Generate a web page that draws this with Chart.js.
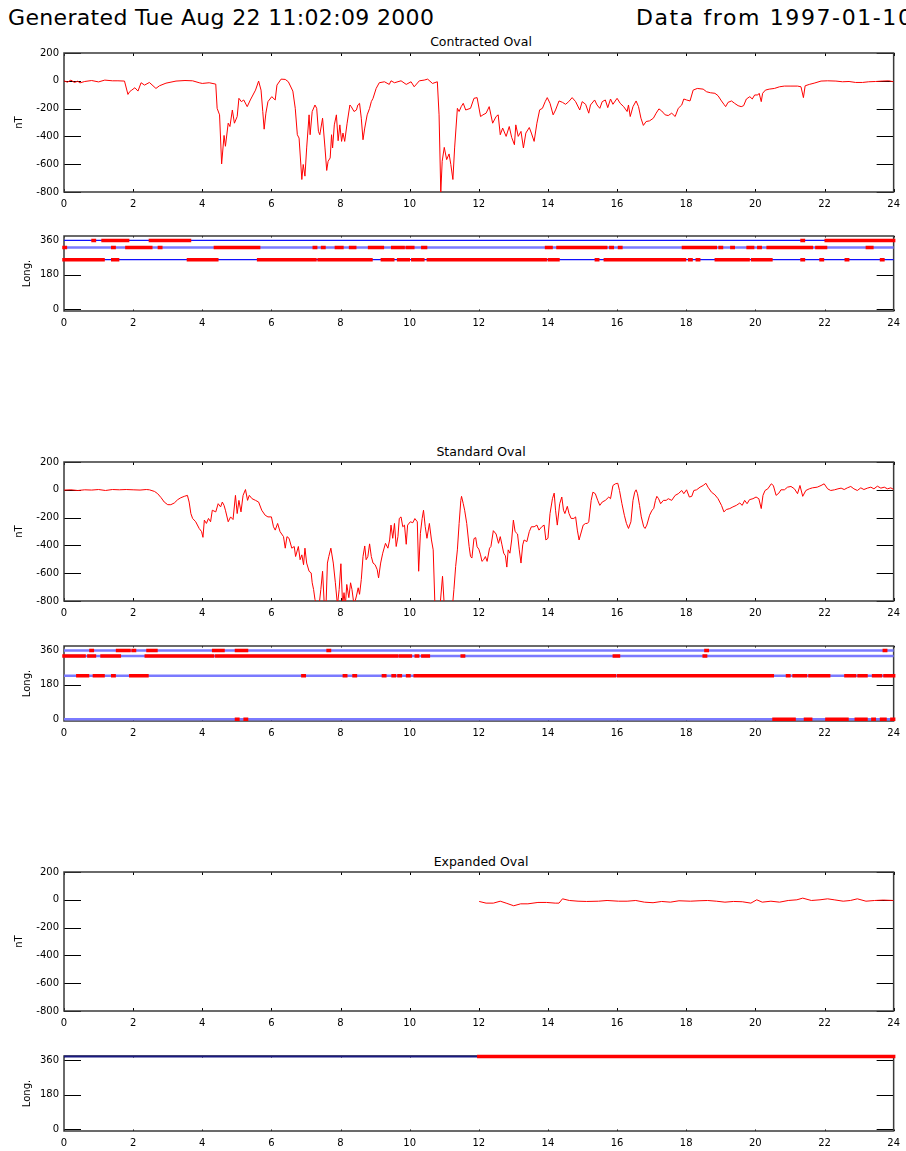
<!DOCTYPE html>
<html><head><meta charset="utf-8">
<script src="https://cdn.jsdelivr.net/npm/chart.js@4.4.0/dist/chart.umd.min.js"></script>
<style>
body{margin:0;background:#fff;}
#page{position:relative;width:906px;height:1151px;overflow:hidden;background:#fff;font-family:'DejaVu Sans',sans-serif;color:#000;}
.hdr{position:absolute;font-size:22px;line-height:22px;white-space:nowrap;}
.ptitle{position:absolute;left:64px;width:834px;text-align:center;font-size:12.5px;line-height:14px;white-space:nowrap;}
canvas{position:absolute;left:0;}
</style></head>
<body><div id="page">
<div class="hdr" style="left:8px;top:7px;letter-spacing:0.33px;">Generated Tue Aug 22 11:02:09 2000</div>
<div class="hdr" style="left:636px;top:7px;letter-spacing:1.6px;">Data from 1997-01-10</div>
<div class="ptitle" style="top:35px;">Contracted Oval</div>
<div class="ptitle" style="top:445px;">Standard Oval</div>
<div class="ptitle" style="top:855px;">Expanded Oval</div>
<canvas id="p1"></canvas><canvas id="p2"></canvas><canvas id="p3"></canvas>
<canvas id="p4"></canvas><canvas id="p5"></canvas><canvas id="p6"></canvas>
</div>
<script>
// ---------------- DATA ----------------
const hourTicks = [0,2,4,6,8,10,12,14,16,18,20,22,24];
const ntTicks = [-800,-600,-400,-200,0,200];
const longTicks = [0,180,360];

// Contracted Oval – nT
const contractedHours = [0,0.1,0.2,0.3,0.4,0.46,0.6,0.8,1.0,1.18,1.4,1.56,1.75,1.85,1.9,1.96,2.05,2.14,2.23,2.33,2.47,2.66,2.76,2.95,3.24,3.5,3.72,3.91,4.0,4.2,4.39,4.43,4.5,4.56,4.63,4.67,4.75,4.8,4.87,4.93,5.01,5.06,5.13,5.2,5.3,5.39,5.54,5.63,5.7,5.75,5.79,5.84,5.9,6.01,6.11,6.16,6.28,6.4,6.49,6.62,6.69,6.75,6.8,6.88,6.92,6.97,7.02,7.09,7.12,7.18,7.26,7.31,7.36,7.4,7.48,7.55,7.6,7.64,7.7,7.74,7.77,7.82,7.88,7.93,7.98,8.03,8.07,8.12,8.19,8.27,8.31,8.39,8.46,8.5,8.55,8.6,8.65,8.7,8.77,8.84,8.89,8.94,9.03,9.12,9.27,9.41,9.46,9.56,9.75,9.9,10.04,10.13,10.28,10.42,10.52,10.66,10.8,10.85,10.9,10.94,11.0,11.07,11.14,11.19,11.25,11.3,11.38,11.43,11.49,11.55,11.62,11.76,11.86,11.95,12.05,12.12,12.21,12.3,12.4,12.5,12.56,12.62,12.69,12.79,12.88,12.95,13.03,13.07,13.14,13.22,13.29,13.36,13.46,13.52,13.6,13.68,13.76,13.84,13.92,13.98,14.06,14.15,14.22,14.32,14.42,14.51,14.6,14.7,14.8,14.92,14.99,15.09,15.18,15.23,15.35,15.42,15.5,15.57,15.66,15.73,15.81,15.88,16.0,16.09,16.19,16.29,16.33,16.38,16.46,16.55,16.62,16.69,16.76,16.84,16.94,17.05,17.13,17.21,17.29,17.39,17.48,17.58,17.68,17.77,17.87,17.93,18.01,18.11,18.2,18.32,18.49,18.59,18.7,18.83,18.92,19.02,19.09,19.14,19.21,19.31,19.4,19.5,19.59,19.66,19.74,19.84,19.91,19.98,20.07,20.11,20.17,20.21,20.29,20.4,20.55,20.7,20.84,21.03,21.22,21.32,21.39,21.44,21.56,21.7,21.9,22.09,22.33,22.52,22.71,22.9,23.1,23.28,23.48,23.67,23.86,24.0];
const contractedNT = [0,-10,5,-12,-3,-15,-5,2,-8,5,0,0,-2,-98,-78,-67,-50,-74,-14,-31,-12,-55,-36,-17,-2,2,0,-14,-19,-14,-24,-198,-245,-598,-393,-471,-305,-329,-210,-305,-257,-126,-150,-138,-186,-138,-67,-2,-67,-221,-348,-233,-150,-114,-138,-31,12,10,-7,-74,-198,-388,-412,-710,-602,-686,-483,-245,-388,-221,-174,-198,-364,-388,-269,-483,-645,-579,-555,-388,-483,-317,-245,-431,-317,-436,-376,-436,-305,-174,-186,-221,-210,-174,-162,-269,-424,-340,-245,-198,-150,-126,-55,-14,-7,-26,0,-14,0,-26,-7,-43,0,5,12,-19,-7,-245,-805,-579,-479,-567,-526,-602,-710,-483,-198,-221,-186,-162,-210,-198,-126,-121,-257,-245,-233,-186,-305,-257,-245,-388,-340,-400,-329,-407,-460,-317,-400,-364,-483,-376,-336,-376,-436,-305,-209,-198,-150,-121,-162,-245,-210,-145,-155,-169,-150,-121,-150,-210,-150,-169,-233,-174,-138,-174,-198,-150,-138,-193,-131,-169,-126,-162,-186,-221,-174,-257,-186,-145,-186,-269,-321,-293,-288,-269,-233,-202,-217,-245,-250,-233,-257,-198,-174,-131,-138,-145,-67,-55,-60,-79,-86,-90,-107,-145,-169,-186,-155,-145,-162,-179,-186,-179,-131,-114,-131,-102,-102,-90,-150,-90,-67,-60,-55,-43,-38,-38,-38,-43,-121,-36,-26,-17,-2,0,-2,-7,-5,-12,-12,-7,-5,-2,0,-7];

// Standard Oval – nT
const standardHours = [0,0.2,0.4,0.6,0.8,1.0,1.2,1.4,1.6,1.8,2.0,2.2,2.38,2.47,2.62,2.71,2.81,2.9,3.0,3.09,3.19,3.29,3.38,3.48,3.57,3.62,3.67,3.72,3.81,3.91,3.98,4.02,4.06,4.12,4.18,4.24,4.29,4.39,4.46,4.53,4.58,4.63,4.67,4.75,4.82,4.89,4.96,5.01,5.06,5.12,5.18,5.25,5.31,5.36,5.44,5.54,5.63,5.72,5.82,5.9,6.0,6.06,6.11,6.18,6.25,6.35,6.4,6.45,6.51,6.59,6.66,6.7,6.78,6.83,6.88,6.93,6.97,7.02,7.09,7.15,7.18,7.22,7.26,7.31,7.38,7.43,7.48,7.53,7.58,7.62,7.66,7.72,7.79,7.85,7.91,7.96,8.01,8.06,8.1,8.14,8.18,8.24,8.29,8.33,8.39,8.46,8.51,8.55,8.6,8.65,8.7,8.74,8.79,8.84,8.89,8.94,9.0,9.06,9.1,9.16,9.22,9.3,9.37,9.42,9.46,9.51,9.56,9.61,9.66,9.7,9.75,9.8,9.85,9.9,9.94,10.02,10.09,10.15,10.22,10.26,10.31,10.36,10.4,10.45,10.5,10.57,10.63,10.68,10.73,10.81,10.88,10.95,11.0,11.09,11.24,11.28,11.33,11.38,11.43,11.48,11.5,11.55,11.59,11.65,11.72,11.76,11.8,11.86,11.91,11.95,12.0,12.05,12.09,12.14,12.19,12.24,12.31,12.35,12.42,12.5,12.57,12.62,12.67,12.72,12.77,12.81,12.85,12.9,12.95,13.0,13.05,13.12,13.17,13.22,13.27,13.31,13.39,13.46,13.52,13.6,13.68,13.74,13.82,13.89,13.94,14.0,14.06,14.13,14.18,14.22,14.27,14.34,14.4,14.45,14.49,14.56,14.61,14.67,14.75,14.8,14.85,14.9,14.94,15.02,15.09,15.14,15.18,15.25,15.3,15.37,15.44,15.5,15.57,15.66,15.76,15.81,15.88,15.95,16.02,16.07,16.14,16.21,16.27,16.33,16.4,16.46,16.51,16.55,16.59,16.65,16.7,16.77,16.81,16.86,16.94,17.01,17.06,17.11,17.15,17.2,17.26,17.34,17.42,17.48,17.58,17.68,17.77,17.87,17.93,18.01,18.09,18.16,18.22,18.3,18.4,18.49,18.57,18.63,18.73,18.83,18.92,19.02,19.09,19.16,19.26,19.35,19.45,19.55,19.62,19.69,19.76,19.83,19.93,20.02,20.1,20.17,20.22,20.28,20.36,20.46,20.52,20.6,20.68,20.74,20.84,20.93,21.03,21.13,21.22,21.29,21.37,21.46,21.56,21.65,21.79,21.9,21.99,22.09,22.18,22.29,22.39,22.48,22.57,22.66,22.76,22.85,22.95,23.05,23.14,23.24,23.34,23.43,23.53,23.63,23.73,23.82,23.92,24.0];
const standardNT = [-2,0,-5,0,-2,2,-5,2,0,2,0,-2,2,0,-12,-28,-57,-88,-107,-107,-95,-71,-57,-47,-40,-88,-171,-206,-230,-278,-301,-342,-218,-242,-206,-230,-147,-159,-100,-123,-88,-112,-147,-230,-195,-214,-40,-171,-76,-159,-40,2,-76,-40,-64,-76,-88,-147,-183,-195,-195,-266,-290,-242,-301,-337,-420,-337,-349,-420,-408,-480,-408,-503,-468,-539,-420,-527,-586,-598,-669,-717,-788,-830,-830,-717,-586,-830,-830,-527,-480,-420,-527,-669,-830,-717,-532,-830,-740,-830,-681,-776,-669,-717,-830,-764,-705,-752,-646,-480,-404,-503,-480,-389,-480,-527,-539,-574,-634,-527,-456,-385,-420,-361,-254,-349,-242,-408,-337,-206,-195,-266,-254,-392,-254,-230,-237,-207,-230,-586,-313,-207,-147,-266,-349,-242,-361,-432,-830,-830,-830,-622,-830,-830,-830,-717,-551,-432,-242,-76,-47,-100,-147,-242,-408,-480,-491,-351,-344,-410,-427,-468,-515,-503,-480,-515,-420,-408,-294,-318,-385,-337,-396,-456,-475,-556,-432,-456,-361,-218,-301,-318,-432,-527,-396,-361,-373,-301,-266,-266,-254,-290,-266,-254,-361,-349,-171,-64,-24,-147,-254,-100,-52,-147,-171,-119,-171,-206,-206,-195,-290,-361,-325,-254,-242,-242,-230,-76,-17,-28,-76,-112,-88,-76,-52,-64,31,43,47,-5,-100,-183,-242,-278,-230,-76,-17,0,-28,-112,-195,-266,-278,-254,-183,-147,-135,-76,-47,-64,-100,-76,-76,-64,-76,-40,-28,-5,-28,0,-52,-47,-5,0,19,31,47,19,-17,-36,-64,-112,-159,-142,-135,-123,-112,-95,-112,-76,-100,-71,-64,-52,-64,-135,-40,-5,7,43,31,-40,-24,0,0,19,24,7,-28,31,-47,-5,7,14,19,31,43,7,-5,0,7,12,2,14,24,7,-5,14,2,12,19,7,26,12,19,7,14,2];

// Expanded Oval – nT
const expandedHours = [12.01,12.21,12.42,12.62,12.79,13.01,13.21,13.42,13.71,13.96,14.21,14.32,14.42,14.62,14.87,15.12,15.46,15.71,16.04,16.29,16.54,16.79,17.04,17.29,17.54,17.79,18.12,18.37,18.62,18.87,19.12,19.37,19.62,19.87,20.04,20.2,20.45,20.7,20.95,21.2,21.37,21.62,21.87,22.09,22.28,22.54,22.75,22.95,23.2,23.45,23.7,24.0];
const expandedNT = [-12,-24,-24,-10,-24,-43,-29,-29,-19,-19,-24,-24,7,-5,-10,-12,-10,-5,-10,-10,-5,-17,-21,-12,-17,-7,-10,-7,-5,-10,-17,-12,-14,-24,0,-17,-10,-17,-5,0,12,-5,0,7,0,-10,-5,7,-10,-5,-2,-5];

// Station longitudes (degrees) and hours each one was in use [start, end]
const contractedStations = [360, 323, 259];
const contractedLong360 = [[0.84,0.88],[1.13,1.43],[1.51,1.84],[2.5,3.63],[21.35,21.39],[22.05,22.28],[22.33,24]];
const contractedLong323 = [[0,0.04],[1.41,1.45],[1.82,2.51],[2.76,2.8],[4.38,5.63],[7.24,7.28],[7.48,7.52],[7.88,8.04],[8.29,8.41],[8.84,9.21],[9.51,9.68],[9.77,9.81],[9.93,10.09],[10.38,10.46],[13.96,14.09],[14.29,15.67],[15.82,15.86],[16.07,16.11],[17.92,18.12],[18.16,18.84],[18.98,19.02],[19.32,19.36],[19.79,19.92],[20.1,20.14],[20.37,21.62],[21.78,22.03],[23.24,23.37]];
const contractedLong259 = [[0,1.13],[1.41,1.55],[3.6,4.42],[5.63,7.26],[7.38,7.93],[8.01,8.88],[9.21,9.51],[9.68,9.96],[10.09,10.38],[10.54,13.92],[14.04,14.29],[15.4,15.44],[15.66,17.95],[18.1,18.14],[18.32,18.36],[18.87,19.12],[19.15,19.79],[19.92,20.45],[21.35,21.39],[21.9,21.94],[22.63,22.67],[23.65,23.69]];

const standardStations = [360, 331, 227, 0];
const standardLong360 = [[0.78,0.82],[1.55,1.88],[2.0,2.04],[2.43,2.66],[4.33,4.6],[4.99,5.03],[5.11,5.15],[5.24,5.28],[7.64,7.68],[18.57,18.61],[23.73,23.77]];
const standardLong331 = [[0,0.58],[0.72,0.88],[1.1,1.6],[2.38,2.6],[2.66,4.3],[4.42,4.55],[4.62,4.95],[5.05,7.0],[7.05,8.0],[8.1,9.3],[9.36,9.63],[9.74,9.88],[9.98,10.02],[10.19,10.23],[10.38,10.54],[11.52,11.56],[15.92,16.04],[18.52,18.56]];
const standardLong227 = [[0.4,0.44],[0.52,0.68],[0.88,1.13],[1.41,1.45],[1.93,2.4],[6.91,6.95],[8.11,8.15],[8.39,8.43],[9.24,9.28],[9.52,9.56],[9.69,9.73],[9.94,9.98],[10.16,10.38],[10.47,10.51],[10.59,15.92],[16.04,18.54],[18.62,20.49],[20.93,20.97],[21.12,21.45],[21.58,22.12],[22.62,22.87],[23.0,23.2],[23.42,23.62],[23.75,24]];
const standardLong0 = [[4.99,5.03],[5.24,5.28],[20.54,21.12],[21.45,21.6],[22.07,22.65],[22.92,23.2],[23.4,23.44],[23.65,23.75],[23.95,24]];

const expandedStations = [381];
const expandedLong381 = [[12,24]];

// ---------------- LAYOUT / STYLE ----------------
const W = 906, PAD_TOP = 10, PAD_RIGHT = 8, AXIS_W = 64, AXIS_H = 24;
const FONT = 'DejaVu Sans';
const LONG_MIN = -9, LONG_MAX = 383;

const idlFrame = {
  id: 'idlFrame',
  beforeDatasetsDraw(chart, args, opts) {
    const {ctx, chartArea: a, scales: {x, y}} = chart;
    ctx.save();
    ctx.strokeStyle = '#000'; ctx.lineWidth = 1;
    ctx.beginPath();
    y.ticks.forEach(t => {
      const py = Math.round(y.getPixelForValue(t.value)) + 0.5;
      ctx.moveTo(a.left, py); ctx.lineTo(a.left + opts.yLen, py);
      ctx.moveTo(a.right, py); ctx.lineTo(a.right - opts.yLen, py);
    });
    x.ticks.forEach(t => {
      const px = Math.round(x.getPixelForValue(t.value)) + 0.5;
      ctx.moveTo(px, a.bottom); ctx.lineTo(px, a.bottom - opts.xLen);
      ctx.moveTo(px, a.top); ctx.lineTo(px, a.top + opts.xLen);
    });
    ctx.stroke();
    ctx.strokeStyle = '#3a3a3a'; ctx.lineWidth = 1.5;
    ctx.strokeRect(a.left, a.top, a.right - a.left, a.bottom - a.top);
    ctx.restore();
  }
};

function toPoints(hours, values) { return hours.map((h, i) => ({x: h, y: values[i]})); }
function runsToPoints(runs, level) {
  const pts = [];
  runs.forEach(([a, b]) => { pts.push({x: a, y: level}, {x: b, y: level}, {x: b, y: null}); });
  return pts;
}

function makeChart(id, top, bottom, datasets, yMin, yMax, yTicks, yTitle, titlePad, xLen) {
  const cv = document.getElementById(id);
  const h = bottom - top + PAD_TOP + AXIS_H;
  cv.width = W; cv.height = h;
  cv.style.top = (top - PAD_TOP) + 'px';
  cv.style.width = W + 'px'; cv.style.height = h + 'px';
  return new Chart(cv, {
    type: 'line',
    data: {datasets},
    plugins: [idlFrame],
    options: {
      responsive: false, animation: false, devicePixelRatio: 1,
      layout: {padding: {top: PAD_TOP, right: PAD_RIGHT, left: 0, bottom: 0}},
      plugins: {legend: {display: false}, tooltip: {enabled: false}, idlFrame: {yLen: 17, xLen: xLen}},
      elements: {point: {radius: 0}, line: {tension: 0}},
      scales: {
        x: {
          type: 'linear', min: hourTicks[0], max: hourTicks[hourTicks.length - 1],
          grid: {display: false, drawTicks: false}, border: {display: false},
          afterBuildTicks: s => { s.ticks = hourTicks.map(v => ({value: v})); },
          afterFit: s => { s.height = AXIS_H; },
          ticks: {padding: 6, color: '#000', font: {family: FONT, size: 10}, maxRotation: 0, autoSkip: false}
        },
        y: {
          type: 'linear', min: yMin, max: yMax,
          grid: {display: false, drawTicks: false}, border: {display: false},
          afterBuildTicks: s => { s.ticks = yTicks.map(v => ({value: v})); },
          afterFit: s => { s.width = AXIS_W; },
          ticks: {padding: 5, color: '#000', font: {family: FONT, size: 10}, autoSkip: false},
          title: {display: true, text: yTitle, color: '#000', font: {family: FONT, size: 10}, padding: {top: titlePad, bottom: 0}}
        }
      }
    }
  });
}

function ntDataset(hours, values) {
  return [{data: toPoints(hours, values), borderColor: '#ff0000', borderWidth: 1, pointRadius: 0, spanGaps: false}];
}
function longDatasets(stations, runs, lineStyles) {
  const ds = [];
  runs.forEach((r, i) => ds.push({data: runsToPoints(r, stations[i]), borderColor: '#ff0000', borderWidth: 3.5,
    borderCapStyle: 'square', pointRadius: 0, spanGaps: false, order: 0, clip: 4}));
  stations.forEach((s, i) => ds.push({data: [{x: hourTicks[0], y: s}, {x: hourTicks[hourTicks.length - 1], y: s}],
    borderColor: lineStyles[i].c, borderWidth: lineStyles[i].w, pointRadius: 0, order: 1, clip: 4}));
  return ds;
}

makeChart('p1', 52, 192, ntDataset(contractedHours, contractedNT), -800, 200, ntTicks, 'nT', 13, 3);
makeChart('p2', 235, 311, longDatasets(contractedStations, [contractedLong360, contractedLong323, contractedLong259],
  [{c: '#1010ff', w: 1.3}, {c: '#7a7aff', w: 2.5}, {c: '#1010ff', w: 1.3}]), LONG_MIN, LONG_MAX, longTicks, 'Long.', 21, 1.5);
makeChart('p3', 461, 601, ntDataset(standardHours, standardNT), -800, 200, ntTicks, 'nT', 13, 3);
makeChart('p4', 645, 721, longDatasets(standardStations, [standardLong360, standardLong331, standardLong227, standardLong0],
  [{c: '#7a7aff', w: 2.5}, {c: '#7a7aff', w: 2.5}, {c: '#7a7aff', w: 2.5}, {c: '#7a7aff', w: 2.5}]), LONG_MIN, LONG_MAX, longTicks, 'Long.', 21, 1.5);
makeChart('p5', 871, 1011, ntDataset(expandedHours, expandedNT), -800, 200, ntTicks, 'nT', 13, 3);
makeChart('p6', 1055, 1131, longDatasets(expandedStations, [expandedLong381], [{c: '#1a1a80', w: 2}]), LONG_MIN, LONG_MAX, longTicks, 'Long.', 21, 1.5);
</script>
</body></html>
